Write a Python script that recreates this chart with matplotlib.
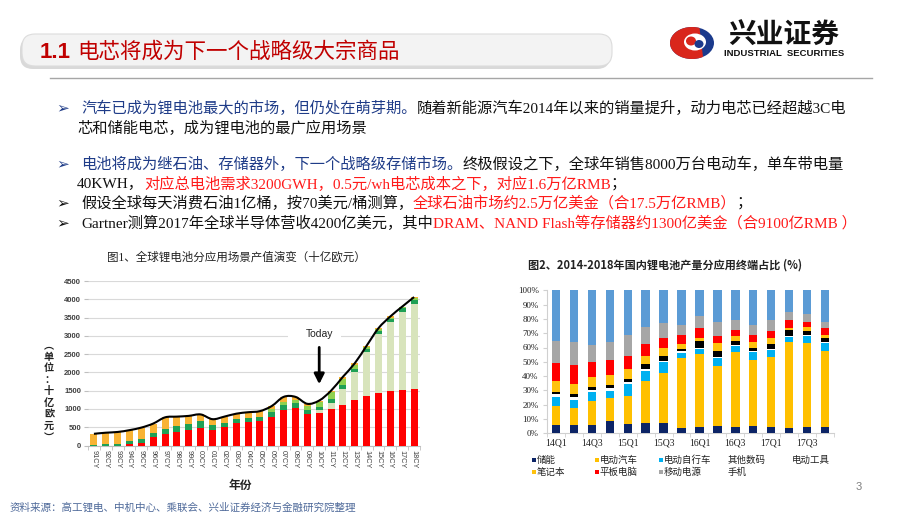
import numpy as np
import matplotlib
matplotlib.use('Agg')
import matplotlib.pyplot as plt
from matplotlib.patches import FancyBboxPatch, Rectangle, Ellipse, Polygon, PathPatch
from matplotlib.path import Path

# ---------------- data: chart 1 (WW rechargeable battery demand) ----------------
years = ['91CY', '92CY', '93CY', '94CY', '95CY', '96CY', '97CY', '98CY', '99CY', '00CY',
         '01CY', '02CY', '03CY', '04CY', '05CY', '06CY', '07CY', '08CY', '09CY', '10CY',
         '11CY', '12CY', '13CY', '14CY', '15CY', '16CY', '17CY', '18CY']
portable_lib = [0, 0, 0, 30, 80, 240, 310, 380, 430, 480, 420, 500, 620, 650, 660, 770, 980,
                1030, 860, 890, 1000, 1120, 1240, 1350, 1430, 1480, 1530, 1550]
automotive_lib = [0, 0, 0, 0, 0, 0, 0, 0, 0, 0, 0, 0, 0, 0, 0, 0, 0, 0, 0, 70, 170, 420, 760,
                  1200, 1620, 1890, 2130, 2330]
portable_nimh = [10, 30, 50, 100, 110, 110, 150, 160, 150, 190, 140, 120, 100, 110, 110, 150,
                 120, 140, 110, 80, 110, 120, 100, 90, 90, 90, 90, 100]
automotive_nimh = [0, 0, 0, 0, 0, 0, 0, 0, 0, 0, 0, 0, 0, 0, 0, 80, 100, 80, 100, 140, 170,
                   160, 100, 60, 40, 40, 30, 50]
nicd = [310, 320, 320, 290, 300, 250, 310, 250, 230, 180, 160, 170, 150, 150, 170, 80, 130, 80,
        70, 50, 50, 60, 50, 30, 30, 30, 20, 30]
c1_series = ['Portable LIB', 'Automotive LIB', 'Portable NIMH', 'Automotive NIMH', 'NiCd']
c1_colors = ['#FF0000', '#D8E4BC', '#1FA055', '#8FD14F', '#F8B334']
c1_yticks = [0, 500, 1000, 1500, 2000, 2500, 3000, 3500, 4000, 4500]

# ---------------- data: chart 2 (China Li-ion output share by end use, %) ----------------
quarters = ['14Q1', '14Q2', '14Q3', '14Q4', '15Q1', '15Q2', '15Q3', '15Q4',
            '16Q1', '16Q2', '16Q3', '16Q4', '17Q1', '17Q2', '17Q3', '17Q4']
storage = [5.8, 5.8, 5.8, 8.6, 6.5, 7.5, 7.0, 3.5, 4.2, 5.1, 4.4, 5.1, 4.4, 3.7, 4.2, 4.2]
ev = [13.3, 12.1, 16.8, 15.9, 19.6, 29.4, 35.4, 49.2, 51.0, 41.9, 52.2, 46.2, 48.7, 59.9, 59.0, 53.4]
ebike = [6.5, 5.4, 6.3, 5.3, 8.2, 6.9, 7.5, 3.7, 3.7, 6.0, 4.2, 5.6, 5.2, 4.0, 5.1, 5.8]
other_digital = [1.7, 2.3, 1.4, 1.7, 1.8, 1.4, 0.7, 0.9, 0.8, 0.4, 0.7, 0.7, 0.7, 0.7, 0.7, 0.7]
power_tools = [1.6, 1.9, 1.9, 2.1, 1.9, 3.3, 3.2, 1.4, 4.9, 4.2, 3.1, 2.1, 3.5, 3.7, 2.8, 2.3]
notebook = [7.7, 7.0, 7.4, 7.2, 6.8, 5.6, 5.6, 3.8, 1.8, 5.4, 3.5, 4.2, 4.4, 1.9, 2.8, 2.4]
tablet = [12.8, 13.3, 10.1, 10.5, 9.3, 8.4, 7.3, 6.0, 7.0, 5.1, 3.9, 4.6, 4.7, 5.4, 3.5, 4.6]
power_bank = [15.2, 15.8, 12.1, 12.8, 14.7, 11.5, 10.7, 7.0, 8.9, 9.8, 7.0, 7.0, 7.4, 5.5, 5.3, 4.7]
phone = [35.4, 36.4, 38.2, 35.9, 31.2, 26.0, 22.6, 24.5, 17.7, 22.1, 21.0, 24.5, 21.0, 15.2, 16.6, 21.9]
c2_names = ['储能', '电动汽车', '电动自行车', '其他数码', '电动工具', '笔记本', '平板电脑', '移动电源', '手机']
c2_colors = ['#0C2466', '#FFC000', '#00B0F0', '#FFFFFF', '#000000', '#FFC20E', '#FF0000', '#A6A6A6', '#5B9BD5']
c2_yticks = [0, 10, 20, 30, 40, 50, 60, 70, 80, 90, 100]

# ---------------- figure ----------------
W, H = 920, 518
fig = plt.figure(figsize=(W / 100, H / 100), dpi=100)
fig.patch.set_facecolor('white')
CJK = ['Noto Sans CJK SC', 'DejaVu Sans']
SERIF = ['Liberation Serif', 'Noto Sans CJK SC', 'DejaVu Sans']

def box(l, t, r, b):
    return [l / W, 1 - b / H, (r - l) / W, (b - t) / H]

bg = fig.add_axes([0, 0, 1, 1], zorder=-5)
bg.set_xlim(0, W)
bg.set_ylim(H, 0)
bg.axis('off')
renderer = fig.canvas.get_renderer()

# title banner
bg.add_patch(FancyBboxPatch((20, 37), 590, 32, boxstyle='round,pad=0,rounding_size=13',
                            fc='#C9C9C9', ec='none', alpha=0.7))
bg.add_patch(FancyBboxPatch((22, 34), 590, 32, boxstyle='round,pad=0,rounding_size=13',
                            fc='#F3F3F3', ec='#DCDCDC', lw=0.8))
t = bg.text(40, 52, '1.1', color='#C00000', fontsize=16, fontweight='bold',
            family=['Liberation Sans', 'DejaVu Sans'], va='center', ha='left')
bb = t.get_window_extent(renderer=renderer)
bg.text(bb.x1 + 6, 52, '电芯将成为下一个战略级大宗商品', color='#C00000', fontsize=15.5,
        family=CJK, va='center', ha='left')
bg.plot([50, 872], [78, 78], color='#A6A6A6', lw=1)

# logo
bg.add_patch(Ellipse((692, 43), 44, 32, fc='#1B3A8C', ec='none'))
th = np.linspace(np.radians(70), np.radians(300), 40)
pts = np.column_stack([692 + 22 * np.cos(th), 43 - 16 * np.sin(th)])
bg.add_patch(Polygon(pts, closed=True, fc='#D9261C', ec='none'))
bg.add_patch(Ellipse((695, 42), 22, 17, fc='white', ec='none'))
bg.add_patch(Ellipse((691, 41), 10, 9, fc='#D9261C', ec='none'))
bg.add_patch(Ellipse((699, 44), 9, 8, fc='#1B3A8C', ec='none'))
bg.text(784, 36, '兴业证券', fontsize=20, fontweight='bold', family=CJK, color='#111111',
        ha='center', va='center')
bg.text(784, 53, 'INDUSTRIAL  SECURITIES', fontsize=6.8, fontweight='bold',
        family=['Liberation Sans', 'DejaVu Sans'], color='#111111', ha='center', va='center')

# bullet text
BLUE, BLACK, RED = '#1F3C88', '#111111', '#FF1A1A'

def rich(x, y, parts, size=11):
    for s, c in parts:
        tt = bg.text(x, y, s, color=c, fontsize=size, family=SERIF, va='center', ha='left')
        x = tt.get_window_extent(renderer=renderer).x1

def arrow(y, c):
    bg.text(56, y, '➢', color=c, fontsize=11, family=['DejaVu Sans'], va='center', ha='left')

arrow(108, BLUE)
rich(81, 108, [('汽车已成为锂电池最大的市场，但仍处在萌芽期。', BLUE),
               ('随着新能源汽车2014年以来的销量提升，动力电芯已经超越3C电', BLACK)])
rich(77, 128, [('芯和储能电芯，成为锂电池的最广应用场景', BLACK)])
arrow(164, BLUE)
rich(81, 164, [('电池将成为继石油、存储器外，下一个战略级存储市场。', BLUE),
               ('终极假设之下，全球年销售8000万台电动车，单车带电量', BLACK)])
rich(77, 184, [('40KWH，', BLACK), ('对应总电池需求3200GWH，0.5元/wh电芯成本之下，对应1.6万亿RMB', RED),
               ('；', BLACK)])
arrow(203, BLACK)
rich(81, 203, [('假设全球每天消费石油1亿桶，按70美元/桶测算，', BLACK),
               ('全球石油市场约2.5万亿美金（合17.5万亿RMB）', RED), ('；', BLACK)])
arrow(223, BLACK)
rich(81, 223, [('Gartner测算2017年全球半导体营收4200亿美元，其中', BLACK),
               ('DRAM、NAND Flash等存储器约1300亿美金（合9100亿RMB ）', RED)])

# ---------------- chart 1 ----------------
bg.text(236, 258, '图1、全球锂电池分应用场景产值演变（十亿欧元）', fontsize=8.3, family=SERIF,
        color='#222222', ha='center', va='center')
ax1 = fig.add_axes(box(88, 281, 420, 445.5))
x = np.arange(len(years))
bottom = np.zeros(len(years))
for vals, col in zip([portable_lib, automotive_lib, portable_nimh, automotive_nimh, nicd], c1_colors):
    ax1.bar(x, vals, 0.58, bottom=bottom, color=col, zorder=3)
    bottom = bottom + np.array(vals)
totals = bottom

def smooth_path(xs, ys):
    verts = [(xs[0], ys[0])]
    codes = [Path.MOVETO]
    n = len(xs)
    for i in range(n - 1):
        p0 = (xs[i - 1], ys[i - 1]) if i > 0 else (xs[i], ys[i])
        p1 = (xs[i], ys[i])
        p2 = (xs[i + 1], ys[i + 1])
        p3 = (xs[i + 2], ys[i + 2]) if i + 2 < n else p2
        c1 = (p1[0] + (p2[0] - p0[0]) / 6, p1[1] + (p2[1] - p0[1]) / 6)
        c2 = (p2[0] - (p3[0] - p1[0]) / 6, p2[1] - (p3[1] - p1[1]) / 6)
        verts += [c1, c2, p2]
        codes += [Path.CURVE4] * 3
    return Path(verts, codes)

ax1.add_patch(PathPatch(smooth_path(x, totals), fill=False, lw=1.5, ec='black', zorder=4))
ax1.set_xlim(-0.5, len(years) - 0.5)
ax1.set_ylim(0, 4500)
ax1.set_yticks(c1_yticks)
ax1.set_yticklabels([str(v) for v in c1_yticks], fontsize=5.5, fontweight='bold', color='#404040',
                    family=['Liberation Sans'])
ax1.yaxis.grid(True, color='#D9D9D9', lw=0.8, zorder=0)
ax1.set_axisbelow(True)
ax1.set_xticks(x)
ax1.set_xticklabels(years, rotation=270, fontsize=5.2, color='#404040',
                    family=['Liberation Sans'], ha='center', va='top')
ax1.set_xticks(np.arange(-0.5, len(years), 1), minor=True)
ax1.tick_params(axis='x', which='major', length=0, pad=3)
ax1.tick_params(axis='x', which='minor', length=3, color='#BFBFBF')
ax1.tick_params(axis='y', length=3, color='#BFBFBF', pad=2)
for s in ['top', 'right', 'left']:
    ax1.spines[s].set_visible(False)
ax1.spines['bottom'].set_color('#BFBFBF')
ax1.add_patch(Rectangle((16.4, 2880), 4.4, 260, fc='white', ec='none', zorder=1))
ax1.text(19, 3060, 'Today', fontsize=7.5, ha='center', va='center', color='#222222',
         family=['Liberation Sans'], zorder=5)
ax1.annotate('', xy=(19, 1600), xytext=(19, 2760),
             arrowprops=dict(arrowstyle='-|>,head_length=0.6,head_width=0.3', lw=2, color='black'),
             zorder=5)
bg.text(98, 292, 'WW rechargeable battery demand B JPY/CY', fontsize=6.3, fontweight='bold',
        color='#5959D9', family=['Liberation Sans'], ha='left', va='center')
leg_y = [310, 321.5, 333, 345, 357]
for yy, name, col in zip(leg_y, c1_series[::-1], c1_colors[::-1]):
    bg.add_patch(Rectangle((124, yy - 2.5), 5, 5, fc=col, ec='none'))
    bg.text(131, yy, name, fontsize=5.6, color='#404040', fontweight='bold',
            family=['Liberation Sans'], ha='left', va='center')
for i, ch in enumerate(['︵', '单', '位', '：', '十', '亿', '欧', '元', '︶']):
    bg.text(49, 345 + i * 11.6, ch, fontsize=7.3, fontweight='bold', family=CJK, color='#222222',
            ha='center', va='center')
bg.text(240, 485, '年份', fontsize=8.5, fontweight='bold', family=CJK, color='#222222',
        ha='center', va='center')

# ---------------- chart 2 ----------------
bg.text(665, 265, '图2、2014-2018年国内锂电池产量分应用终端占比 (%)', fontsize=8, fontweight='bold',
        family=CJK, color='#222222', ha='center', va='center')
ax2 = fig.add_axes(box(547, 290.3, 834, 433.3))
xq = np.arange(len(quarters))
bottom = np.zeros(len(quarters))
for vals, col in zip([storage, ev, ebike, other_digital, power_tools, notebook, tablet,
                      power_bank, phone], c2_colors):
    ax2.bar(xq, vals, 0.47, bottom=bottom, color=col, zorder=3)
    bottom = bottom + np.array(vals)
ax2.set_xlim(-0.5, len(quarters) - 0.5)
ax2.set_ylim(0, 100)
ax2.set_yticks(c2_yticks)
ax2.set_yticklabels([f'{v}%' for v in c2_yticks], fontsize=6.5, family=['Liberation Serif'],
                    color='#222222')
ax2.set_xticks(xq[::2])
ax2.set_xticklabels(quarters[::2], fontsize=7, family=['Liberation Serif'], color='#222222')
ax2.set_xticks(np.arange(-0.5, len(quarters), 1), minor=True)
ax2.tick_params(axis='x', which='major', length=0, pad=4)
ax2.tick_params(axis='x', which='minor', length=3, color='#D0D0D0')
ax2.tick_params(axis='y', length=3, color='#D0D0D0', pad=3)
for s in ['top', 'right']:
    ax2.spines[s].set_visible(False)
for s in ['left', 'bottom']:
    ax2.spines[s].set_color('#D0D0D0')

leg2 = [(532, 460, 0, True), (595, 460, 1, True), (659, 460, 2, True), (728, 460, 3, False),
        (792, 460, 4, False), (532, 472, 5, True), (595, 472, 6, True), (659, 472, 7, True),
        (728, 472, 8, False)]
for lx, ly, k, mark in leg2:
    tx = lx
    if mark:
        bg.add_patch(Rectangle((lx, ly - 2), 4, 4, fc=c2_colors[k], ec='none'))
        tx = lx + 4.5
    bg.text(tx, ly, c2_names[k], fontsize=6.8, family=SERIF, color='#222222', ha='left', va='center')

# footer
bg.text(10, 508, '资料来源：高工锂电、中机中心、乘联会、兴业证券经济与金融研究院整理', fontsize=7.6,
        family=SERIF, color='#4F6A9A', ha='left', va='center')
bg.text(859, 487, '3', fontsize=8, color='#7F7F7F', family=['Liberation Sans'], ha='center', va='center')

fig.savefig('out.png', dpi=100, facecolor='white')
